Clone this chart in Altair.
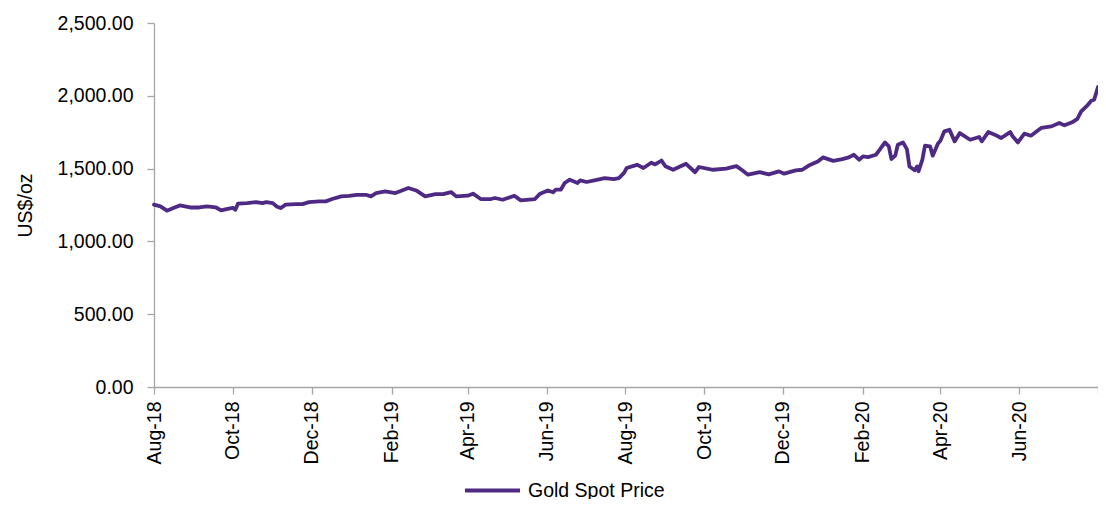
import altair as alt
import pandas as pd

# Gold spot price (US$/oz)
dates = [
    "2018-08-01", "2018-08-06", "2018-08-11", "2018-08-16", "2018-08-21", "2018-08-29",
    "2018-09-05", "2018-09-11", "2018-09-18", "2018-09-22", "2018-09-27", "2018-10-01",
    "2018-10-03", "2018-10-05", "2018-10-12", "2018-10-19", "2018-10-24", "2018-10-27",
    "2018-11-01", "2018-11-04", "2018-11-07", "2018-11-11", "2018-11-19", "2018-11-24",
    "2018-11-29", "2018-12-07", "2018-12-12", "2018-12-17", "2018-12-24", "2018-12-30",
    "2019-01-05", "2019-01-12", "2019-01-16", "2019-01-20", "2019-01-27", "2019-02-04",
    "2019-02-14", "2019-02-20", "2019-02-27", "2019-03-07", "2019-03-13", "2019-03-19",
    "2019-03-23", "2019-04-01", "2019-04-05", "2019-04-11", "2019-04-19", "2019-04-22",
    "2019-04-28", "2019-05-07", "2019-05-12", "2019-05-23", "2019-05-27", "2019-06-02",
    "2019-06-06", "2019-06-08", "2019-06-12", "2019-06-15", "2019-06-19", "2019-06-25",
    "2019-06-27", "2019-07-02", "2019-07-08", "2019-07-16", "2019-07-23", "2019-07-27",
    "2019-07-31", "2019-08-02", "2019-08-08", "2019-08-10", "2019-08-15", "2019-08-21",
    "2019-08-24", "2019-08-29", "2019-09-01", "2019-09-07", "2019-09-17", "2019-09-24",
    "2019-09-27", "2019-10-08", "2019-10-18", "2019-10-26", "2019-10-30", "2019-11-04",
    "2019-11-13", "2019-11-20", "2019-11-28", "2019-12-02", "2019-12-11", "2019-12-16",
    "2019-12-21", "2019-12-28", "2020-01-01", "2020-01-09", "2020-01-16", "2020-01-21",
    "2020-01-25", "2020-01-29", "2020-02-01", "2020-02-05", "2020-02-11", "2020-02-14",
    "2020-02-18", "2020-02-21", "2020-02-23", "2020-02-26", "2020-02-28", "2020-03-03",
    "2020-03-06", "2020-03-08", "2020-03-12", "2020-03-14", "2020-03-15", "2020-03-18",
    "2020-03-20", "2020-03-24", "2020-03-26", "2020-03-30", "2020-04-01", "2020-04-04",
    "2020-04-08", "2020-04-12", "2020-04-16", "2020-04-24", "2020-05-01", "2020-05-03",
    "2020-05-08", "2020-05-13", "2020-05-18", "2020-05-25", "2020-05-27", "2020-05-31",
    "2020-06-05", "2020-06-10", "2020-06-18", "2020-06-26", "2020-07-02", "2020-07-06",
    "2020-07-12", "2020-07-16", "2020-07-19", "2020-07-23", "2020-07-27", "2020-07-29",
    "2020-08-01",
]
prices = [
    1252, 1240, 1211, 1229, 1247, 1233,
    1233, 1240, 1233, 1213, 1224, 1231,
    1217, 1259, 1263, 1270, 1263, 1270,
    1263, 1240, 1229, 1252, 1256, 1256,
    1270, 1275, 1275, 1291, 1309, 1313,
    1320, 1320, 1309, 1332, 1343, 1332,
    1367, 1350, 1309, 1325, 1325, 1339,
    1309, 1314, 1328, 1291, 1291, 1298,
    1286, 1314, 1282, 1291, 1328, 1350,
    1337, 1355, 1355, 1401, 1424, 1401,
    1419, 1408, 1419, 1435, 1428, 1435,
    1470, 1504, 1520, 1527, 1504, 1540,
    1529, 1555, 1516, 1492, 1533, 1475,
    1511, 1492, 1500, 1517, 1492, 1458,
    1476, 1460, 1481, 1465, 1488, 1492,
    1521, 1549, 1577, 1553, 1565, 1577,
    1595, 1561, 1584, 1579, 1595, 1630,
    1680, 1653, 1566, 1589, 1664, 1680,
    1634, 1515, 1488, 1515, 1481, 1561,
    1657, 1653, 1589, 1671, 1692, 1756,
    1767, 1687, 1744, 1698, 1717, 1687,
    1751, 1733, 1710, 1751, 1721, 1680,
    1740, 1726, 1779, 1790, 1813, 1797,
    1818, 1841, 1893, 1927, 1968, 1973,
    2060,
]
series_name = "Gold Spot Price"
y_ticks = [0, 500, 1000, 1500, 2000, 2500]
x_tick_months = [
    (2018, 8), (2018, 10), (2018, 12), (2019, 2), (2019, 4), (2019, 6),
    (2019, 8), (2019, 10), (2019, 12), (2020, 2), (2020, 4), (2020, 6), (2020, 8),
]

df = pd.DataFrame({"date": dates, "price": prices, "series": series_name})

FONT = "Liberation Sans"
AXIS_GREY = "#A6A6A6"
PURPLE = "#4E2A84"

x_values = [alt.DateTime(year=y, month=m, date=1, utc=True) for y, m in x_tick_months]

chart = (
    alt.Chart(df)
    .mark_line(strokeWidth=3.8, strokeJoin="round", strokeCap="round")
    .encode(
        x=alt.X(
            "date:T",
            scale=alt.Scale(
                type="utc",
                domain=[
                    alt.DateTime(year=2018, month=8, date=1, utc=True),
                    alt.DateTime(year=2020, month=8, date=1, utc=True),
                ],
            ),
            axis=alt.Axis(
                title=None,
                values=x_values,
                labelExpr="datum.value >= datetime(2020, 6, 15) ? '' : utcFormat(datum.value, '%b-%y')",
                labelAngle=270,
                labelFontSize=19.5,
                labelFont=FONT,
                labelColor="#000000",
                labelPadding=7,
                tickSize=7,
                tickColor=AXIS_GREY,
                domainColor=AXIS_GREY,
                domainWidth=1.3,
                tickWidth=1.3,
                grid=False,
                labelOverlap=False,
                labelFlush=False,
            ),
        ),
        y=alt.Y(
            "price:Q",
            scale=alt.Scale(domain=[0, 2500], nice=False),
            axis=alt.Axis(
                title="US$/oz",
                values=y_ticks,
                format=",.2f",
                labelFontSize=19.5,
                labelFont=FONT,
                labelColor="#000000",
                labelPadding=14,
                tickSize=7,
                tickColor=AXIS_GREY,
                domainColor=AXIS_GREY,
                domainWidth=1.3,
                tickWidth=1.3,
                grid=False,
                titleFont=FONT,
                titleFontSize=19.5,
                titleFontWeight="normal",
                titleColor="#000000",
                titlePadding=22,
            ),
        ),
        color=alt.Color(
            "series:N",
            scale=alt.Scale(domain=[series_name], range=[PURPLE]),
            legend=alt.Legend(
                title=None,
                orient="none",
                legendX=309,
                legendY=438,
                symbolType="stroke",
                symbolSize=3025,
                symbolStrokeWidth=4,
                labelFont=FONT,
                labelFontSize=19.5,
                labelColor="#000000",
                labelOffset=6,
            ),
        ),
    )
    .properties(
        width=944,
        height=364,
        autosize=alt.AutoSizeParams(type="none"),
        padding={"left": 146, "top": 15, "right": 0, "bottom": 112},
    )
    .configure_view(strokeWidth=0)
)

chart.save("out.html", embed_options={"renderer": "svg", "actions": False})
